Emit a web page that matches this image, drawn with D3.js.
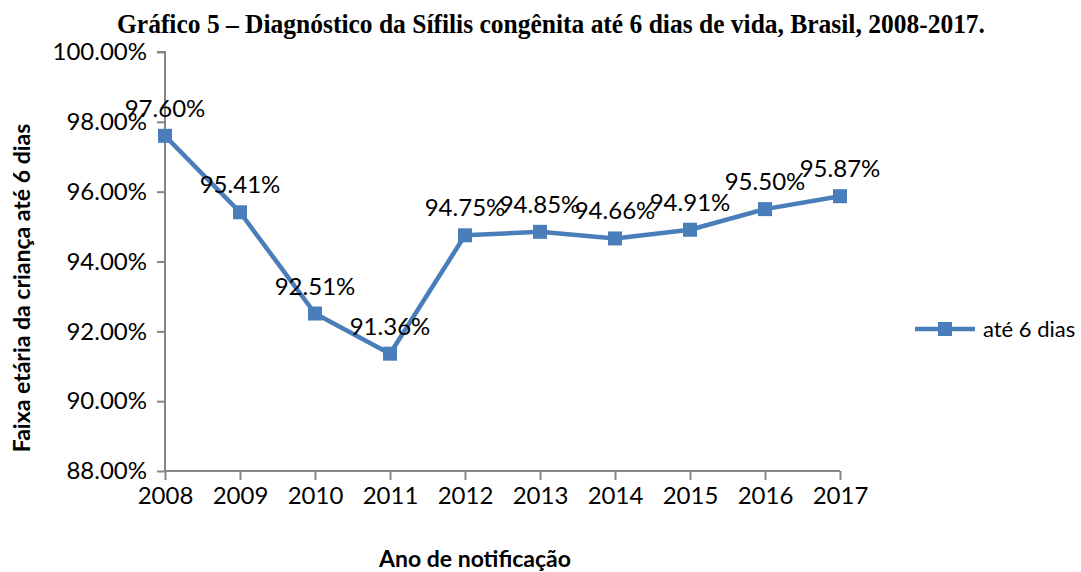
<!DOCTYPE html>
<html>
<head>
<meta charset="utf-8">
<script src="https://cdn.jsdelivr.net/npm/d3@7"></script>
<style>
  body { margin: 0; background: #fff; }
  svg text { font-family: Lato, "Open Sans", sans-serif; fill: #000; }
</style>
</head>
<body>
<div id="chart"></div>
<script>
// data
var years = [2008, 2009, 2010, 2011, 2012, 2013, 2014, 2015, 2016, 2017];
var values = [97.60, 95.41, 92.51, 91.36, 94.75, 94.85, 94.66, 94.91, 95.50, 95.87];
var yTicks = [88, 90, 92, 94, 96, 98, 100];
var seriesName = "até 6 dias";
var title = "Gráfico 5 – Diagnóstico da Sífilis congênita até 6 dias de vida, Brasil, 2008-2017.";

var W = 1081, H = 572;
var lineColor = "#4a7ebb", axisColor = "#868686";

var svg = d3.select("#chart").append("svg")
    .attr("width", W).attr("height", H);

var x = d3.scalePoint()
    .domain(years)
    .range([165, 840]);

var y = d3.scaleLinear()
    .domain([88, 100])
    .range([471, 52]);

// title (condensed bold serif)
svg.append("text")
    .attr("x", 117).attr("y", 33)
    .attr("textLength", 868)
    .attr("lengthAdjust", "spacingAndGlyphs")
    .style("font-family", "'Liberation Serif', 'DejaVu Serif', serif")
    .style("font-weight", "bold")
    .style("font-size", "27px")
    .text(title);

// y axis
var yAxis = svg.append("g")
    .attr("transform", "translate(165,0)")
    .call(d3.axisLeft(y).tickValues(yTicks).tickSize(8).tickPadding(10)
        .tickFormat(function(d) { return d.toFixed(2) + "%"; }));
yAxis.selectAll("text").style("font-size", "24px").style("font-family", "Lato, sans-serif");

// x axis
var xAxis = svg.append("g")
    .attr("transform", "translate(0,471)")
    .call(d3.axisBottom(x).tickSize(9).tickPadding(7).tickFormat(d3.format("d")));
xAxis.selectAll("text").style("font-size", "24px").style("font-family", "Lato, sans-serif");

svg.selectAll(".domain").attr("stroke", axisColor).attr("stroke-width", 2);
svg.selectAll(".tick line").attr("stroke", axisColor).attr("stroke-width", 2);
yAxis.select(".domain").attr("d", "M-8," + y(100) + "H0V" + y(88));
xAxis.select(".domain").attr("d", "M165,0H840");

// line
var line = d3.line()
    .x(function(d, i) { return x(years[i]); })
    .y(function(d) { return y(d); });

svg.append("path")
    .datum(values)
    .attr("d", line)
    .attr("fill", "none")
    .attr("stroke", lineColor)
    .attr("stroke-width", 4.5)
    .attr("stroke-linejoin", "round");

// markers
svg.selectAll(".mk")
    .data(values)
    .enter().append("rect")
    .attr("class", "mk")
    .attr("x", function(d, i) { return x(years[i]) - 7; })
    .attr("y", function(d) { return y(d) - 7; })
    .attr("width", 14).attr("height", 14)
    .attr("fill", lineColor);

// data labels
svg.selectAll(".lbl")
    .data(values)
    .enter().append("text")
    .attr("class", "lbl")
    .attr("x", function(d, i) { return x(years[i]); })
    .attr("y", function(d) { return y(d) - 19; })
    .attr("text-anchor", "middle")
    .style("font-size", "24px")
    .text(function(d) { return d.toFixed(2) + "%"; });

// axis titles
svg.append("text")
    .attr("transform", "translate(30,288) rotate(-90)")
    .attr("text-anchor", "middle")
    .style("font-size", "23px")
    .style("font-weight", "bold")
    .text("Faixa etária da criança até 6 dias");

svg.append("text")
    .attr("x", 475).attr("y", 567)
    .attr("text-anchor", "middle")
    .style("font-size", "23px")
    .style("font-weight", "bold")
    .text("Ano de notificação");

// legend
var lg = svg.append("g").attr("transform", "translate(915,329)");
lg.append("line")
    .attr("x1", 0).attr("x2", 60)
    .attr("stroke", lineColor).attr("stroke-width", 4.5);
lg.append("rect")
    .attr("x", 23).attr("y", -7).attr("width", 14).attr("height", 14)
    .attr("fill", lineColor);
lg.append("text")
    .attr("x", 68).attr("y", 8)
    .style("font-size", "22px")
    .text(seriesName);
</script>
</body>
</html>
